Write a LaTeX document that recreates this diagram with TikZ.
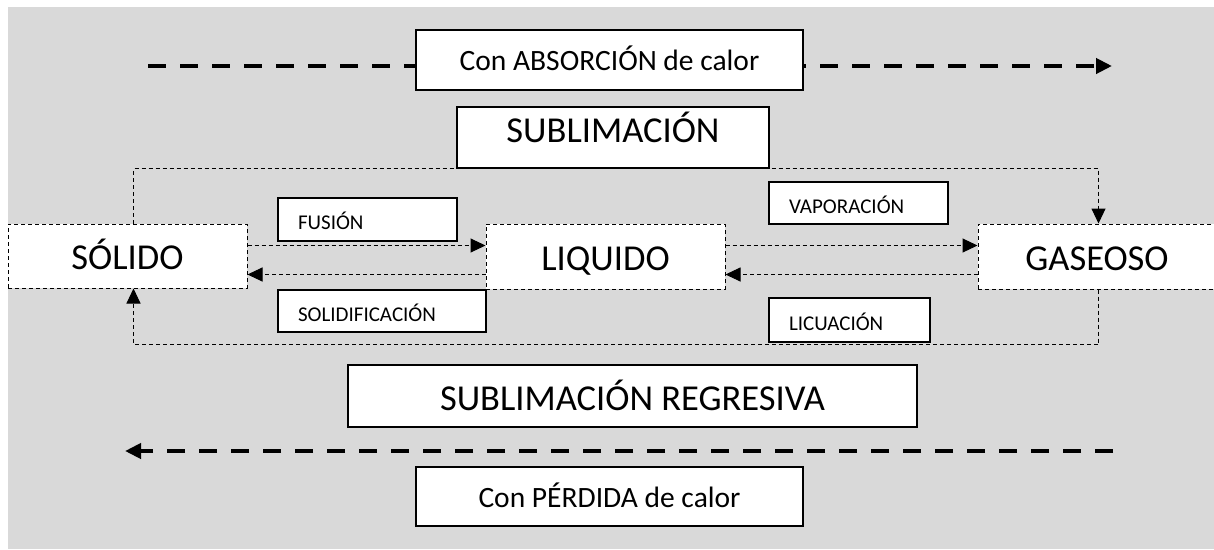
\documentclass[tikz,border=0pt]{standalone}
\usepackage{fontspec}
\setmainfont{Carlito}
\usetikzlibrary{arrows.meta}
\definecolor{fondo}{RGB}{217,217,217}

\begin{document}
\begin{tikzpicture}[x=1pt,y=-1pt,
  est/.style={draw=black,fill=white,line width=1pt,dash pattern=on 4pt off 3pt,inner sep=0pt,
    minimum width=239pt,minimum height=64pt,font=\fontsize{36.5}{40}\selectfont,
    text height=27.5pt,text depth=0pt},
  rot/.style={draw=black,fill=white,line width=1.3pt,inner sep=0pt},
  grande/.style={rot,font=\fontsize{36.5}{40}\selectfont,text height=29pt,text depth=0pt},
  medio/.style={rot,font=\fontsize{29.5}{33}\selectfont,text height=21pt,text depth=0pt},
  chico/.style={rot,font=\fontsize{21}{24}\selectfont,inner xsep=20pt,align=left,
    text height=20.5pt,text depth=0pt},
  flujo/.style={draw=black,line width=1pt,dash pattern=on 4pt off 3pt,-{Triangle[length=15pt,width=14pt]}},
  calor/.style={draw=black,line width=4.5pt,dash pattern=on 18pt off 14pt,-{Triangle[length=16pt,width=15pt]}}]

\useasboundingbox (0,0) rectangle (1214,549);
\fill[fondo] (8,7) rectangle (1214,549);

% ===== estados =====
\node[est] (SOL) at (127.5,256) {SÓLIDO};
\node[est,minimum height=65pt] (LIQ) at (605.5,256.5) {LIQUIDO};
\node[est,minimum height=65pt,minimum width=238pt] (GAS) at (1097,256.5) {GASEOSO};

% ===== puntos de paso =====
\coordinate (subI) at (133.5,168.5); \coordinate (subD) at (1098.5,168.5);
\coordinate (regI) at (133.5,344.5); \coordinate (regD) at (1098.5,344.5);
\coordinate (absI) at (148,66);  \coordinate (absD) at (1112,66);
\coordinate (perD) at (1113,451); \coordinate (perI) at (125,451);

% ===== cambios de estado =====
\draw[flujo] ([yshift=10.5pt]SOL.east) -- ([yshift=11pt]LIQ.west);
\draw[flujo] ([yshift=-18pt]LIQ.west) -- ([yshift=-18.5pt]SOL.east);
\draw[flujo] ([yshift=11pt]LIQ.east) -- ([yshift=11pt]GAS.west);
\draw[flujo] ([yshift=-18pt]GAS.west) -- ([yshift=-18pt]LIQ.east);
\draw[flujo] (SOL.north -| subI) -- (subI) -- (subD) -- (GAS.north -| subD);
\draw[flujo] (GAS.south -| regD) -- (regD) -- (regI) -- (SOL.south -| regI);

% ===== calor =====
\draw[calor] (absI) -- (absD);
\draw[calor] (perD) -- (perI);

% ===== rotulos =====
\node[medio,minimum width=387pt,minimum height=60pt] (ABS) at (609.5,60) {Con ABSORCIÓN de calor};
\node[grande,minimum width=312pt,minimum height=61pt,text height=23.5pt,text depth=13pt] (SUB) at (613,137.5) {SUBLIMACIÓN};
\node[chico,text width=139pt,minimum height=43pt] (FUS) at (367.5,219.5) {FUSIÓN};
\node[chico,text width=168pt,minimum height=42pt] (SLD) at (382,311) {SOLIDIFICACIÓN};
\node[chico,text width=139pt,minimum height=42pt] (VAP) at (858.5,203) {VAPORACIÓN};
\node[chico,text width=121pt,minimum height=44pt] (LIC) at (849.5,320) {LICUACIÓN};
\node[grande,minimum width=569pt,minimum height=62pt] (SRG) at (632.5,396) {SUBLIMACIÓN REGRESIVA};
\node[medio,minimum width=387pt,minimum height=59pt] (PER) at (609.5,496.5) {Con PÉRDIDA de calor};
\end{tikzpicture}
\end{document}
